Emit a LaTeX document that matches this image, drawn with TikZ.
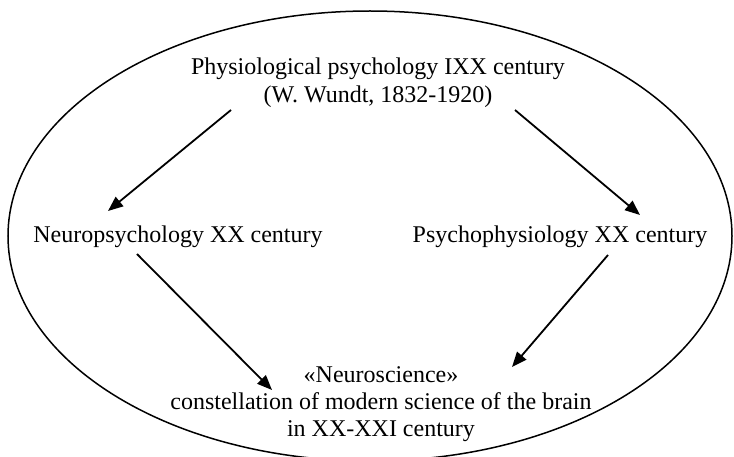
\documentclass[tikz,border=0pt]{standalone}
\usepackage{fontspec}
\setmainfont{Liberation Serif}
\usetikzlibrary{arrows.meta}
\begin{document}
\begin{tikzpicture}[x=1pt,y=-1pt,
  label text/.style={inner sep=0pt, align=center, font=\fontsize{24}{27}\selectfont},
  flow/.style={line width=1.8pt, -{Triangle[length=15pt,width=12pt]}},
  frame/.style={line width=1.5pt}]
  \useasboundingbox (0,0) rectangle (734,457);
  % enclosing ellipse
  \begin{scope}
    \clip (0,0) rectangle (734,457);
    \draw[frame] (370,236) ellipse [x radius=362, y radius=225];
  \end{scope}
  % text blocks
  \node[label text, font=\fontsize{24}{28}\selectfont] (phys) at (378,83)
    {Physiological psychology IXX century\\(W. Wundt, 1832-1920)};
  \node[label text] (neuro) at (178,237) {Neuropsychology XX century};
  \node[label text] (psycho) at (560,237) {Psychophysiology XX century};
  \node[label text] (ns) at (381,404)
    {«Neuroscience»\\constellation of modern science of the brain\\in XX-XXI century};
  % arrow end points
  \coordinate (p1) at (231,110);
  \coordinate (n1) at (108,211);
  \coordinate (p2) at (515,110);
  \coordinate (s1) at (640,215);
  \coordinate (n2) at (137,254);
  \coordinate (c1) at (272,390);
  \coordinate (s2) at (608,255);
  \coordinate (c2) at (512,367);
  \draw[flow] (p1) -- (n1);
  \draw[flow] (p2) -- (s1);
  \draw[flow] (n2) -- (c1);
  \draw[flow] (s2) -- (c2);
\end{tikzpicture}
\end{document}
